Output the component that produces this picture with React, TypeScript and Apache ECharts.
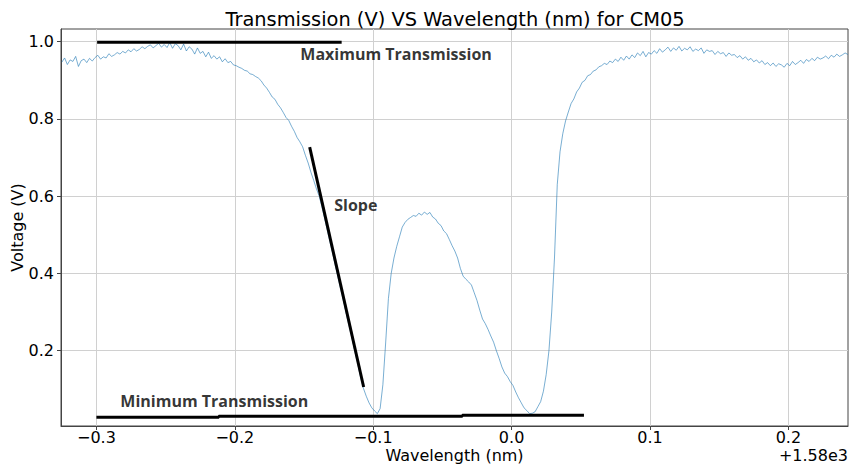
import React, { useEffect, useRef } from "react";
import * as echarts from "echarts";

// Wavelength offsets (nm, relative to 1580 nm) on a uniform measurement grid
const WL_START = -0.325;
const WL_STEP = 0.002;

// Transmission voltage (V), one value per grid step
const voltage = [
  0.947, 0.958, 0.941, 0.953, 0.949, 0.962, 0.936, 0.951, 0.955, 0.946,
  0.957, 0.950, 0.959, 0.965, 0.955, 0.961, 0.958, 0.969, 0.962, 0.966,
  0.972, 0.968, 0.975, 0.971, 0.979, 0.974, 0.982, 0.976, 0.980, 0.987,
  0.982, 0.988, 0.992, 0.984, 0.990, 0.996, 0.986, 0.993, 0.985, 0.998,
  0.983, 0.995, 0.990, 0.979, 0.994, 0.976, 0.987, 0.981, 0.968, 0.984,
  0.970, 0.975, 0.961, 0.973, 0.957, 0.964, 0.955, 0.961, 0.948, 0.956,
  0.946, 0.949, 0.940,
  0.938, 0.934, 0.931, 0.926, 0.924, 0.917, 0.915, 0.910, 0.906, 0.899,
  0.888, 0.880, 0.869, 0.857, 0.851, 0.838, 0.829, 0.817, 0.804, 0.796,
  0.781, 0.768, 0.752, 0.741, 0.728, 0.706, 0.686, 0.662, 0.641, 0.619,
  0.600, 0.572, 0.541, 0.510, 0.478, 0.447, 0.415, 0.384, 0.352, 0.321,
  0.289, 0.258, 0.226, 0.195, 0.164, 0.130, 0.102, 0.082, 0.065, 0.052,
  0.044, 0.037, 0.050, 0.112, 0.220, 0.335, 0.400, 0.440, 0.470, 0.495,
  0.520, 0.532, 0.540, 0.545, 0.550, 0.548, 0.556, 0.551, 0.559, 0.553,
  0.558, 0.546, 0.541, 0.530, 0.524, 0.510, 0.503, 0.488, 0.472, 0.458,
  0.440, 0.413, 0.393, 0.385, 0.378, 0.370, 0.350, 0.330, 0.305, 0.282,
  0.270, 0.255, 0.238, 0.222, 0.200, 0.180, 0.158, 0.142, 0.133, 0.120,
  0.110, 0.093, 0.078, 0.065, 0.052, 0.045, 0.037, 0.038, 0.042, 0.055,
  0.068, 0.095, 0.138, 0.200, 0.300, 0.440, 0.630, 0.715, 0.762, 0.795,
  0.818, 0.840, 0.852, 0.870, 0.880, 0.895, 0.900, 0.912, 0.915, 0.924,
  0.927, 0.935, 0.938, 0.944, 0.941, 0.950, 0.946, 0.955, 0.949, 0.960,
  0.952, 0.963, 0.955,
  0.966, 0.959, 0.971, 0.964, 0.975, 0.961, 0.972, 0.968, 0.977, 0.970,
  0.982, 0.973, 0.979, 0.986, 0.975, 0.984, 0.978, 0.988, 0.976, 0.983,
  0.979, 0.987, 0.975, 0.981, 0.977, 0.984, 0.970, 0.979, 0.975, 0.977,
  0.967, 0.975, 0.969, 0.972, 0.962, 0.971, 0.965, 0.967, 0.959, 0.964,
  0.955, 0.961, 0.952, 0.957, 0.948, 0.953, 0.945, 0.951, 0.941, 0.946,
  0.938, 0.945, 0.936, 0.943, 0.940, 0.934, 0.944, 0.938, 0.949, 0.941,
  0.946, 0.952, 0.944, 0.954, 0.949, 0.957, 0.951, 0.960, 0.955, 0.958,
  0.963, 0.956, 0.965, 0.960, 0.968, 0.962, 0.966, 0.971, 0.967,
];

// Axis ranges and ticks
const X_MIN = -0.3256;
const X_MAX = 0.2431;
const Y_MIN = 0.005;
const Y_MAX = 1.033;
const xTicks = [-0.3, -0.2, -0.1, 0.0, 0.1, 0.2];
const yTicks = [0.2, 0.4, 0.6, 0.8, 1.0];

// Hand-drawn annotations (data coordinates)
const maxLine = [[-0.2995, 0.999], [-0.1228, 0.999]];
const minLine = [
  [-0.3, 0.0276], [-0.2116, 0.0276], [-0.2116, 0.030], [-0.0356, 0.030],
  [-0.0356, 0.0327], [0.0523, 0.0327],
];
const slopeLine = [[-0.1459, 0.727], [-0.1069, 0.106]];
const annotationLabels = [
  { text: "Maximum Transmission", at: [-0.153, 0.968] },
  { text: "Minimum Transmission", at: [-0.2831, 0.07] },
  { text: "Slope", at: [-0.1285, 0.577] },
];

const TITLE = "Transmission (V) VS Wavelength (nm) for CM05";
const X_NAME = "Wavelength (nm)";
const Y_NAME = "Voltage (V)";
const OFFSET_TEXT = "+1.58e3";

const fmtX = (v: number) => {
  const s = Math.abs(v) < 1e-9 ? "0.0" : Math.abs(v).toFixed(1);
  return v < -1e-9 ? "\u2212" + s : s;
};

export default function App() {
  const ref = useRef<HTMLDivElement>(null);
  useEffect(() => {
    document.body.style.margin = "0";
    if (!ref.current) return;
    const chart = echarts.init(ref.current, undefined, { renderer: "svg" });
    const curve = voltage.map((v, i) => [WL_START + i * WL_STEP, v]);
    const font = "DejaVu Sans";
    const blackLine = (data: number[][]) => ({
      type: "line",
      data,
      symbol: "none",
      silent: true,
      lineStyle: { color: "#000", width: 3 },
      z: 5,
    });
    chart.setOption({
      animation: false,
      textStyle: { fontFamily: font },
      title: {
        text: TITLE,
        left: 450,
        textAlign: "center",
        top: 5,
        textStyle: { fontFamily: font, fontSize: 19.4, fontWeight: "normal", color: "#000" },
      },
      grid: {
        left: 61,
        right: 2,
        top: 29,
        bottom: 42,
        outerBoundsMode: "none",
        containLabel: false,
        show: true,
        borderColor: "#444",
        borderWidth: 1,
        backgroundColor: "transparent",
      },
      xAxis: {
        type: "value",
        min: X_MIN,
        max: X_MAX,
        name: X_NAME,
        nameLocation: "middle",
        nameGap: 21,
        nameMoveOverlap: false,
        nameTextStyle: { fontFamily: font, fontSize: 16, color: "#000" },
        axisLine: { show: true, onZero: false, lineStyle: { color: "#444" } },
        axisTick: { show: true, inside: false, length: 4, customValues: xTicks, lineStyle: { color: "#444" } },
        axisLabel: {
          customValues: xTicks,
          formatter: fmtX,
          fontFamily: font,
          fontSize: 16,
          color: "#000",
          margin: 3,
        },
        splitLine: { show: true, lineStyle: { color: "#d0d0d0", width: 1 } },
      },
      yAxis: {
        type: "value",
        min: Y_MIN,
        max: Y_MAX,
        name: Y_NAME,
        nameLocation: "middle",
        nameGap: 36,
        nameMoveOverlap: false,
        nameTextStyle: { fontFamily: font, fontSize: 16, color: "#000" },
        axisLine: { show: true, onZero: false, lineStyle: { color: "#444" } },
        axisTick: { show: true, inside: false, length: 4, customValues: yTicks, lineStyle: { color: "#444" } },
        axisLabel: {
          customValues: yTicks,
          formatter: (v: number) => v.toFixed(1),
          fontFamily: font,
          fontSize: 16,
          color: "#000",
          margin: 7,
        },
        splitLine: { show: true, lineStyle: { color: "#d0d0d0", width: 1 } },
      },
      graphic: [
        {
          type: "text",
          right: 2,
          top: 447,
          style: { text: OFFSET_TEXT, fontFamily: font, fontSize: 16, fill: "#000" },
        },
      ],
      series: [
        {
          type: "line",
          data: curve,
          symbol: "none",
          silent: true,
          lineStyle: { color: "#1f77b4", width: 0.6 },
          z: 3,
        },
        blackLine(maxLine),
        blackLine(minLine),
        blackLine(slopeLine),
        {
          type: "scatter",
          silent: true,
          symbolSize: 1,
          itemStyle: { color: "rgba(0,0,0,0)" },
          data: annotationLabels.map((a) => ({ value: a.at, name: a.text })),
          label: {
            show: true,
            position: "right",
            distance: 0,
            formatter: (p: any) => p.name,
            fontFamily: "Open Sans",
            fontWeight: "bold",
            fontSize: 16,
            color: "#000",
          },
          z: 6,
        },
      ],
    });
    return () => chart.dispose();
  }, []);
  return <div ref={ref} style={{ width: 850, height: 468 }} />;
}
